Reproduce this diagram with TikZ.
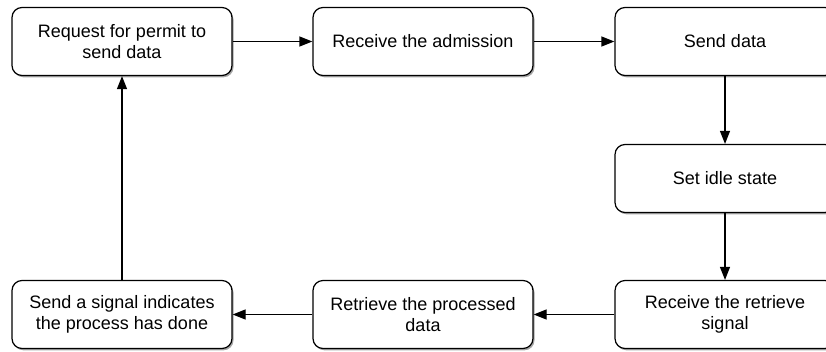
\documentclass[tikz,border=0pt]{standalone}
\usepackage{fontspec}
\setmainfont{Liberation Sans}
\usetikzlibrary{shadows,arrows.meta}
\begin{document}
\begin{tikzpicture}[x=1pt,y=-1pt,
  stepbox/.style={draw=black, line width=1.2pt, fill=white, rounded corners=10pt,
    minimum width=220pt, minimum height=68pt, align=center, inner sep=2pt,
    font=\fontsize{18}{21}\selectfont,
    drop shadow={shadow xshift=1.5pt, shadow yshift=-1.8pt, opacity=0.35, fill=black}},
  conn/.style={line width=1.2pt, -{Triangle[length=13pt,width=10pt]}}]
\useasboundingbox (0,0) rectangle (826,351);
\node[stepbox] (b1) at (122,41.5) {Request for permit to\\send data};
\node[stepbox] (b2) at (423,41.5) {Receive the admission};
\node[stepbox] (b3) at (725,41.5) {Send data};
\node[stepbox] (b4) at (725,178.5) {Set idle state};
\node[stepbox] (b5) at (725,314.5) {Receive the retrieve\\signal};
\node[stepbox] (b6) at (423,314.5) {Retrieve the processed\\data};
\node[stepbox] (b7) at (122,314.5) {Send a signal indicates\\the process has done};
\draw[conn] (b1) -- (b2);
\draw[conn] (b2) -- (b3);
\draw[conn] (b3) -- (b4);
\draw[conn] (b4) -- (b5);
\draw[conn] (b5) -- (b6);
\draw[conn] (b6) -- (b7);
\draw[conn] (b7) -- (b1);
\end{tikzpicture}
\end{document}
